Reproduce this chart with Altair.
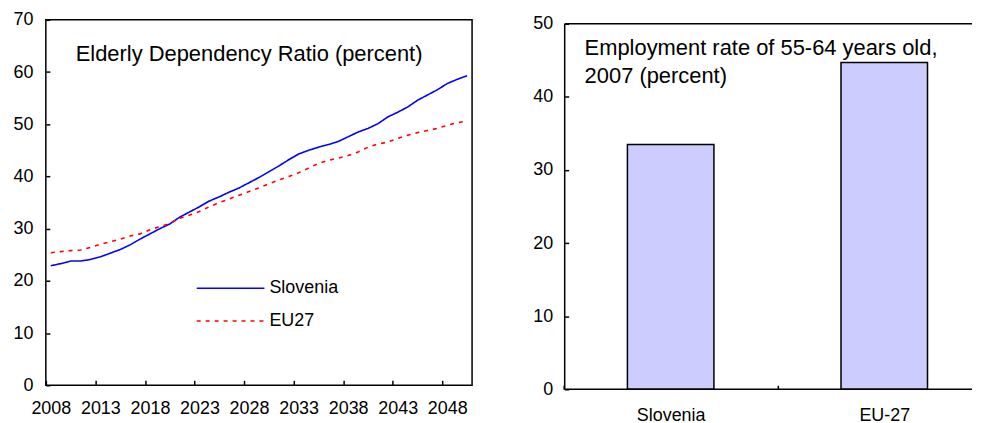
import altair as alt
import pandas as pd

FONT = "Liberation Sans"

# ---------------- data ----------------
years = list(range(2008, 2051))
slovenia = [22.9, 23.3, 23.8, 23.8, 24.1, 24.6, 25.3, 26.0, 26.9, 28.0,
            29.0, 30.0, 30.9, 32.2, 33.2, 34.2, 35.3, 36.1, 37.0, 37.8,
            38.8, 39.8, 40.9, 42.0, 43.2, 44.3, 45.0, 45.6, 46.1, 46.7,
            47.6, 48.5, 49.2, 50.1, 51.4, 52.3, 53.3, 54.6, 55.6, 56.6,
            57.8, 58.6, 59.3]
eu27 = [25.4, 25.6, 25.8, 25.9, 26.4, 27.0, 27.5, 28.0, 28.6, 29.0,
        29.8, 30.4, 31.0, 32.0, 32.6, 33.3, 34.2, 35.0, 35.7, 36.4,
        37.1, 37.8, 38.6, 39.3, 40.0, 40.7, 41.6, 42.5, 43.1, 43.5,
        44.0, 44.7, 45.6, 46.2, 46.6, 47.3, 47.9, 48.4, 48.8, 49.2,
        49.8, 50.3, 50.6]
series_names = ["Slovenia", "EU27"]
line_colors = ["#0000FF", "#FF0000"]
left_title = "Elderly Dependency Ratio (percent)"
x_tick_years = [2008, 2013, 2018, 2023, 2028, 2033, 2038, 2043, 2048]
y_ticks_left = [0, 10, 20, 30, 40, 50, 60, 70]

bar_categories = ["Slovenia", "EU-27"]
bar_values = [33.5, 44.7]
right_title_lines = ["Employment rate of 55-64 years old,", "2007 (percent)"]
y_ticks_right = [0, 10, 20, 30, 40, 50]

# ---------------- left panel ----------------
LW, LH = 428, 367
n = len(years)
df_lines = pd.DataFrame({
    "year": years * 2,
    "value": slovenia + eu27,
    "series": [series_names[0]] * n + [series_names[1]] * n,
})

# legend symbol: a horizontal line, 8 units long in symbol space (68 px with size 289)
legend = alt.Legend(orient="none", legendX=176, legendY=260, title=None,
                    symbolType="M-4,0H4", symbolSize=289, symbolStrokeWidth=1.6,
                    symbolFillColor="transparent",
                    labelFontSize=18, labelFont=FONT, labelColor="black",
                    rowPadding=14, labelOffset=29.5)

axis_common = dict(title=None, domain=False, grid=False, tickColor="black",
                   tickWidth=1.5, labelFont=FONT, labelFontSize=18,
                   labelColor="black")

lines = alt.Chart(df_lines).mark_line(strokeWidth=1.6).encode(
    x=alt.X("year:Q",
            scale=alt.Scale(domain=[2007.5, 2050.5], nice=False, zero=False),
            axis=alt.Axis(values=x_tick_years, format="d", tickSize=5, offset=-5,
                          tickOffset=-4.98, labelOffset=4.98, labelPadding=14,
                          labelFlush=False, labelOverlap=False, **axis_common)),
    y=alt.Y("value:Q", scale=alt.Scale(domain=[0, 70], nice=False),
            axis=alt.Axis(values=y_ticks_left, tickSize=4, offset=-4,
                          labelPadding=13, **axis_common)),
    color=alt.Color("series:N", sort=series_names,
                    scale=alt.Scale(domain=series_names, range=line_colors),
                    legend=legend),
    strokeDash=alt.StrokeDash("series:N", sort=series_names,
                              scale=alt.Scale(domain=series_names, range=[[1, 0], [4, 5]]),
                              legend=legend),
)

title_l = alt.Chart(pd.DataFrame({"t": [left_title]})).mark_text(
    align="left", baseline="alphabetic", fontSize=22, font=FONT, color="black"
).encode(x=alt.value(30), y=alt.value(41), text="t:N")

left = alt.layer(lines, title_l).properties(
    width=LW, height=LH,
    view=alt.ViewBackground(stroke="black", strokeWidth=1.5),
)

# ---------------- right panel ----------------
# plot area starts 4 px above the 50 line so that the frame sits lower than the left one
RW, RH = 409, 371
y_top = y_ticks_right[-1] * RH / (RH - 4)
df_bars = pd.DataFrame({"cat": bar_categories, "value": bar_values})

bars = alt.Chart(df_bars).mark_bar(color="#CCCCFF", stroke="black", strokeWidth=1.5).encode(
    x=alt.X("cat:N", sort=bar_categories,
            scale=alt.Scale(paddingInner=0.595, paddingOuter=0.251, align=0.585),
            axis=alt.Axis(labelAngle=0, tickSize=4, offset=-4, tickOffset=-107.25,
                          labelOffset=107.25, labelPadding=17, **axis_common)),
    y=alt.Y("value:Q", scale=alt.Scale(domain=[0, y_top], nice=False),
            axis=alt.Axis(values=y_ticks_right, tickSize=4, offset=-4,
                          labelPadding=12, **axis_common)),
)

frame_y = [y_ticks_right[0], y_ticks_right[-1]]
hrules = alt.Chart(pd.DataFrame({"v": frame_y})).mark_rule(
    color="black", strokeWidth=1.5
).encode(y="v:Q", x=alt.value(0), x2=alt.value(RW))

vrule = alt.Chart(pd.DataFrame({"v": [frame_y[0]], "v2": [frame_y[1]]})).mark_rule(
    color="black", strokeWidth=1.5
).encode(x=alt.value(0), y="v:Q", y2="v2:Q")

title_r = alt.Chart(pd.DataFrame({"t": [right_title_lines]})).mark_text(
    align="left", baseline="alphabetic", fontSize=22, font=FONT, color="black",
    lineHeight=28
).encode(x=alt.value(20), y=alt.value(35), text="t")

right = alt.layer(bars, hrules, vrule, title_r).properties(
    width=RW, height=RH,
    view=alt.ViewBackground(stroke="transparent"),
)

chart = alt.hconcat(left, right, spacing=59).properties(
    padding={"left": 4, "top": 1, "right": 0, "bottom": 0},
    background="white",
).configure_view(strokeWidth=1.5)

chart.save("out.html", embed_options={"renderer": "svg", "actions": False})
